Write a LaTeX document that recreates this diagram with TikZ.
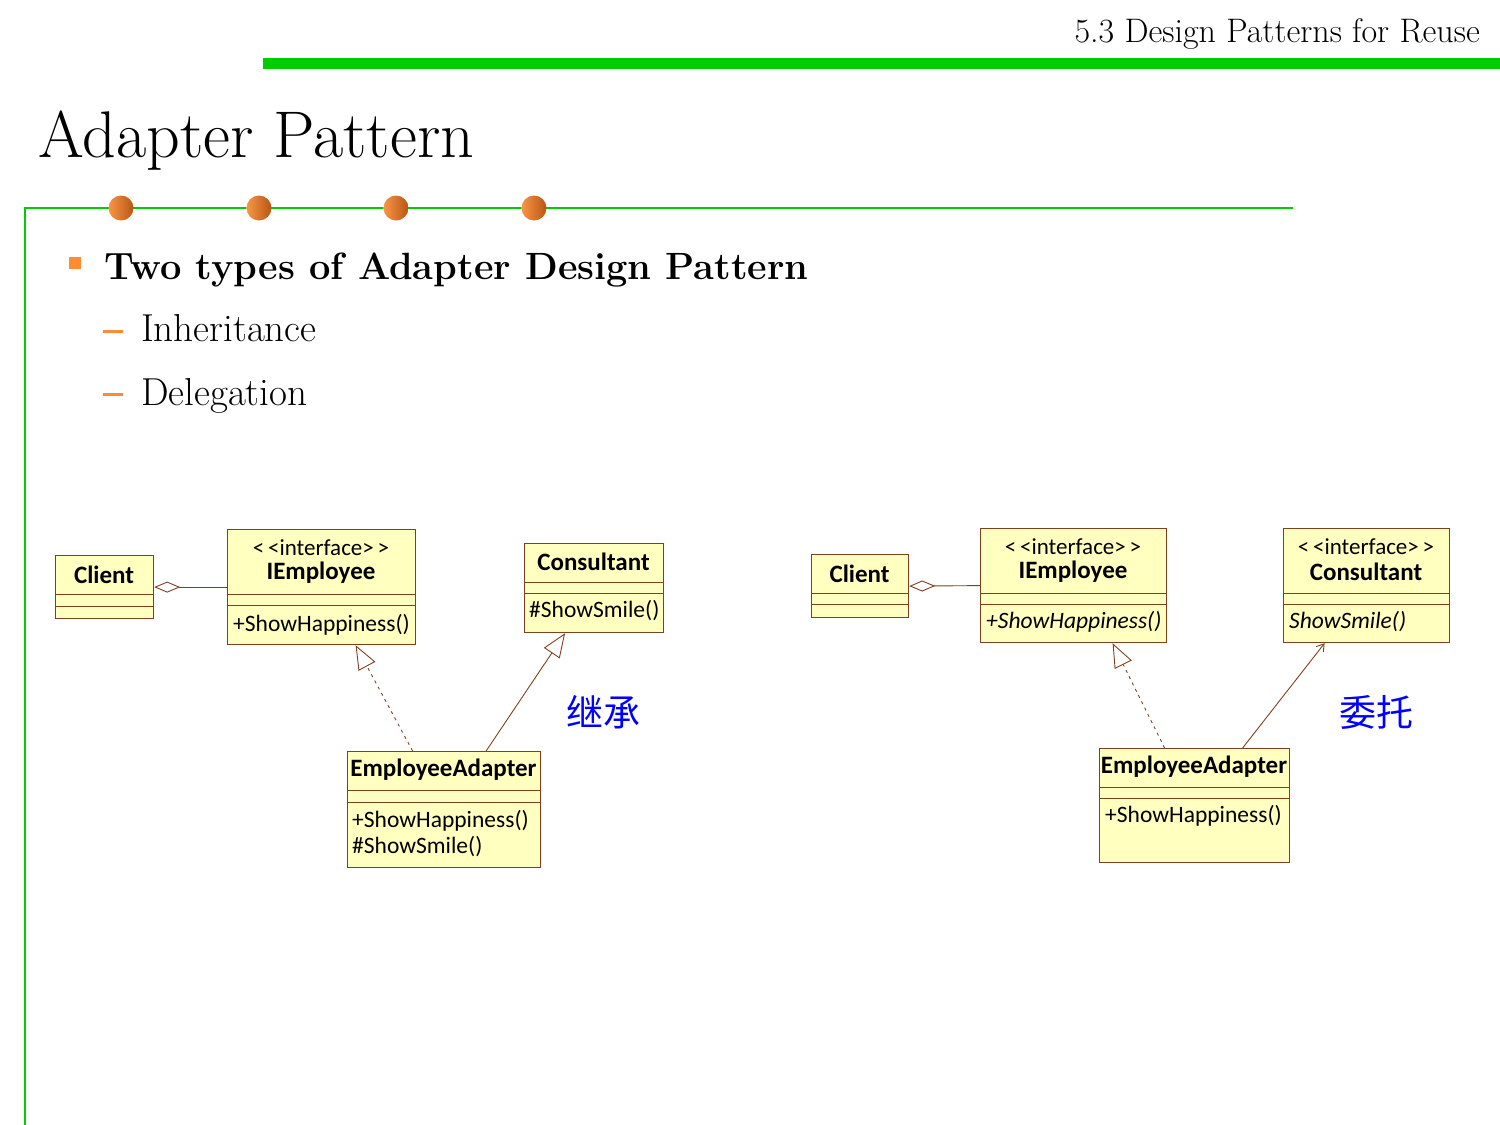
\documentclass[tikz,border=0pt]{standalone}
\usepackage{fontspec}
\newfontfamily\umlfont{Carlito}
\newfontfamily\cjkfont{Noto Sans CJK SC}
\usetikzlibrary{arrows.meta}
\definecolor{slidegreen}{RGB}{0,204,0}
\definecolor{bulletorange}{RGB}{255,140,50}
\definecolor{ballhi}{RGB}{248,150,70}
\definecolor{ballsh}{RGB}{185,85,20}
\definecolor{umlfill}{RGB}{255,255,192}
\definecolor{umlline}{RGB}{128,64,32}
\definecolor{cjkblue}{RGB}{0,0,255}
\begin{document}
\begin{tikzpicture}[x=1pt, y=-1pt,
	umlbox/.style={draw=umlline, fill=umlfill, line width=1.2pt, inner sep=0pt, anchor=north west},
	umlsep/.style={draw=umlline, line width=1pt},
	clsname/.style={font=\umlfont\bfseries\fontsize{25}{28}\selectfont, inner sep=0pt},
	stereo/.style={font=\umlfont\fontsize{23}{26}\selectfont, inner sep=0pt},
	method/.style={font=\umlfont\fontsize{23.5}{26}\selectfont, inner sep=0pt, anchor=west},
	realize/.style={draw=umlline, line width=0.9pt, dash pattern=on 3pt off 4pt, -{Triangle[open, length=24pt, width=19pt]}},
	inherit/.style={draw=umlline, line width=0.9pt, -{Triangle[open, length=24pt, width=19pt]}},
	aggr/.style={draw=umlline, line width=0.9pt, {Diamond[open, length=26pt, width=11pt]}-},
	assoc/.style={draw=umlline, line width=0.9pt, -{Straight Barb[length=7pt, width=9pt]}},
	cjk/.style={font=\cjkfont\fontsize{37}{40}\selectfont, text=cjkblue, inner sep=0pt}]
	\useasboundingbox (0,0) rectangle (1500,1125);
	
	% header
	\node[anchor=base east, inner sep=0pt, font=\fontsize{34}{38}\selectfont] (header) at (1480,42) {5.3 Design Patterns for Reuse};
	\fill[slidegreen] (263,58) rectangle (1500,69);
	\node[anchor=base west, inner sep=0pt, font=\fontsize{66}{72}\selectfont] (title) at (38,157) {Adapter Pattern};
	
	% frame lines and balls
	\draw[slidegreen, line width=2pt] (1293,208) -- (25,208) -- (25,1125);
	\foreach \x in {121,259,396,534}
		\shade[left color=ballhi, right color=ballsh] (\x,208) circle (12.5pt);
	
	% bullets
	\fill[bulletorange] (69,257) rectangle (81,269);
	\node[anchor=base west, inner sep=0pt, font=\bfseries\fontsize{38}{42}\selectfont] (point) at (104,279) {Two types of Adapter Design Pattern};
	\fill[bulletorange] (103,330) rectangle (123,333);
	\node[anchor=base west, inner sep=0pt, font=\fontsize{39}{42}\selectfont] (inher) at (141,341) {Inheritance};
	\fill[bulletorange] (103,393) rectangle (123,396);
	\node[anchor=base west, inner sep=0pt, font=\fontsize{39}{42}\selectfont] (deleg) at (141,405) {Delegation};
	
	% ---- left: class adapter ----
	\node[umlbox, minimum width=98pt, minimum height=63pt] (lclient) at (55,555) {};
	\draw[umlsep] (55,594) -- (153,594) (55,606) -- (153,606);
	\node[clsname] (lclientname) at (104,574.5) {Client};
	
	\node[umlbox, minimum width=188pt, minimum height=115pt] (liemp) at (227,529) {};
	\draw[umlsep] (227,594) -- (415,594) (227,605) -- (415,605);
	\node[stereo] (lstereo) at (321,548) {<\,<interface>\,>};
	\node[clsname] (liempname) at (321,573) {IEmployee};
	\node[method] (liempop) at (233,625) {+ShowHappiness()};
	
	\node[umlbox, minimum width=139pt, minimum height=89pt] (lcons) at (524,543) {};
	\draw[umlsep] (524,582) -- (663,582) (524,593) -- (663,593);
	\node[clsname] (lconsname) at (593.5,562) {Consultant};
	\node[method] (lconsop) at (529,611) {\#ShowSmile()};
	
	\node[umlbox, minimum width=193pt, minimum height=116pt] (lada) at (347,751) {};
	\draw[umlsep] (347,790) -- (540,790) (347,802) -- (540,802);
	\node[clsname] (ladaname) at (443.5,770) {EmployeeAdapter};
	\node[method] (ladaopa) at (352,821) {+ShowHappiness()};
	\node[method] (ladaopb) at (352,847) {\#ShowSmile()};
	
	\draw[aggr] (lclient.east) -- (liemp.west);
	\draw[realize] ([xshift=-31.5pt]lada.north) -- ([xshift=34pt]liemp.south);
	\draw[inherit] ([xshift=42pt]lada.north) -- ([xshift=-29pt]lcons.south);
	\node[cjk] (linh) at (603,712) {继承};
	
	% ---- right: object adapter ----
	\node[umlbox, minimum width=97pt, minimum height=63pt] (rclient) at (811,554) {};
	\draw[umlsep] (811,593) -- (908,593) (811,604) -- (908,604);
	\node[clsname] (rclientname) at (859.5,573.5) {Client};
	
	\node[umlbox, minimum width=186pt, minimum height=114pt] (riemp) at (980,528) {};
	\draw[umlsep] (980,593) -- (1166,593) (980,604) -- (1166,604);
	\node[stereo] (rstereoa) at (1073,547) {<\,<interface>\,>};
	\node[clsname] (riempname) at (1073,572) {IEmployee};
	\node[method] (riempop) at (986,622) {\itshape +ShowHappiness()};
	
	\node[umlbox, minimum width=166pt, minimum height=114pt] (rcons) at (1283,528) {};
	\draw[umlsep] (1283,593) -- (1449,593) (1283,604) -- (1449,604);
	\node[stereo] (rstereob) at (1366,547) {<\,<interface>\,>};
	\node[clsname] (rconsname) at (1366,572) {Consultant};
	\node[method] (rconsop) at (1289,622) {\itshape ShowSmile()};
	
	\node[umlbox, minimum width=190pt, minimum height=114pt] (rada) at (1099,748) {};
	\draw[umlsep] (1099,787) -- (1289,787) (1099,798) -- (1289,798);
	\node[clsname] (radaname) at (1194,767) {EmployeeAdapter};
	\node[method] (radaop) at (1105,816) {+ShowHappiness()};
	
	\draw[aggr] (rclient.east) -- (riemp.west);
	\draw[realize] ([xshift=-30pt]rada.north) -- ([xshift=39pt]riemp.south);
	\draw[assoc] ([xshift=48pt]rada.north) -- ([xshift=-42pt]rcons.south);
	\node[cjk] (rdel) at (1376,712) {委托};
\end{tikzpicture}
\end{document}
